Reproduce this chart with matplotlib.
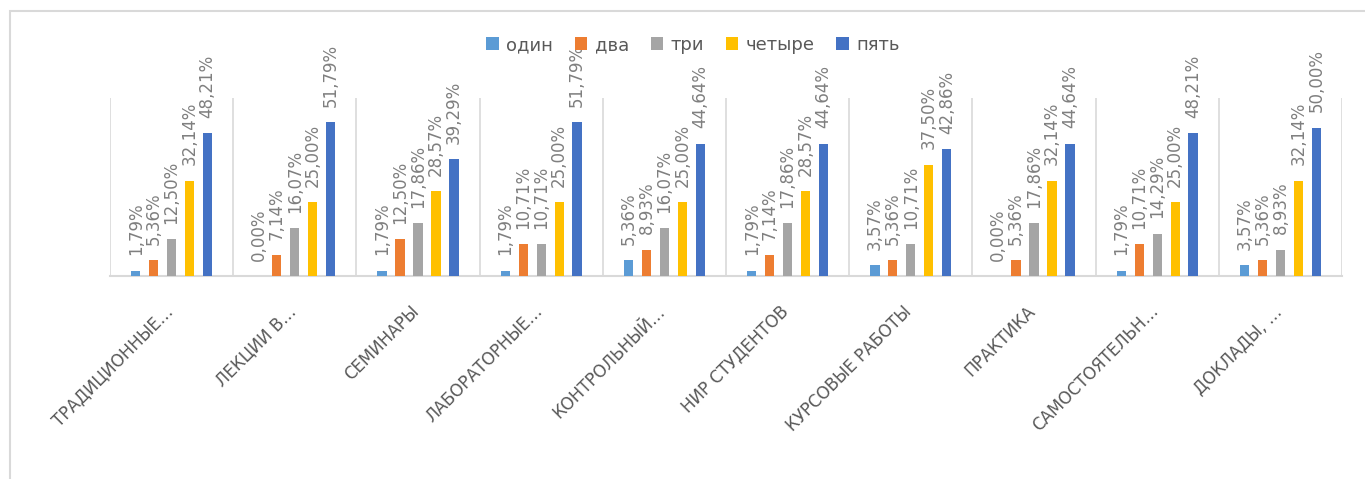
import matplotlib.pyplot as plt
import matplotlib.transforms as mtransforms
import numpy as np
from matplotlib.patches import Rectangle

categories = ['ТРАДИЦИОННЫЕ…', 'ЛЕКЦИИ В…', 'СЕМИНАРЫ', 'ЛАБОРАТОРНЫЕ…', 'КОНТРОЛЬНЫЙ…',
              'НИР СТУДЕНТОВ', 'КУРСОВЫЕ РАБОТЫ', 'ПРАКТИКА', 'САМОСТОЯТЕЛЬН…', 'ДОКЛАДЫ, …']
series_names = ['один', 'два', 'три', 'четыре', 'пять']
odin = [1.79, 0.00, 1.79, 1.79, 5.36, 1.79, 3.57, 0.00, 1.79, 3.57]
dva = [5.36, 7.14, 12.50, 10.71, 8.93, 7.14, 5.36, 5.36, 10.71, 5.36]
tri = [12.50, 16.07, 17.86, 10.71, 16.07, 17.86, 10.71, 17.86, 14.29, 8.93]
chetyre = [32.14, 25.00, 28.57, 25.00, 25.00, 28.57, 37.50, 32.14, 25.00, 32.14]
pyat = [48.21, 51.79, 39.29, 51.79, 44.64, 44.64, 42.86, 44.64, 48.21, 50.00]
colors = ['#5B9BD5', '#ED7D31', '#A5A5A5', '#FFC000', '#4472C4']


def fmt(v):
    return ('%.2f' % v).replace('.', ',') + '%'


fig = plt.figure(figsize=(13.65, 4.79), dpi=100)
# chart area frame
fig.patches.append(Rectangle((10 / 1365, -0.1), 1.2, 1 - 11 / 479 + 0.1, transform=fig.transFigure,
                             fill=False, edgecolor='#d9d9d9', linewidth=1.5))

ax = fig.add_axes([110 / 1365, 1 - 276 / 479, (1342 - 110) / 1365, 178 / 479])
x = np.arange(len(categories))
step = 0.146
width = 0.076
all_series = [odin, dva, tri, chetyre, pyat]
for i, (vals, name, c) in enumerate(zip(all_series, series_names, colors)):
    pos = x + (i - 2) * step
    ax.bar(pos, vals, width, color=c, label=name, zorder=3)
    for p, v in zip(pos, vals):
        ax.annotate(fmt(v), (p, v), xytext=(0, 11), textcoords='offset points',
                    rotation=90, ha='center', va='bottom', fontsize=12, color='#7f7f7f',
                    annotation_clip=False)

ax.set_ylim(0, 60)
ax.set_xlim(-0.5, len(categories) - 0.5)
ax.vlines(np.arange(len(categories) + 1) - 0.5, 0, 60, color='#d9d9d9', linewidth=1.2, zorder=1)
for s in ['top', 'right', 'left']:
    ax.spines[s].set_visible(False)
ax.spines['bottom'].set_color('#d9d9d9')
ax.spines['bottom'].set_linewidth(1.5)
ax.set_yticks([])
ax.set_xticks(x)
ax.set_xticklabels(categories, rotation=45, ha='right', rotation_mode='anchor',
                   fontsize=12, color='#595959')
ax.tick_params(axis='x', length=0, pad=19)
shift = mtransforms.ScaledTranslation(-8 / 100, 0, fig.dpi_scale_trans)
for lbl in ax.get_xticklabels():
    lbl.set_transform(lbl.get_transform() + shift)

fig.legend(loc='center', bbox_to_anchor=(693 / 1365, 1 - 45 / 479), ncol=5, frameon=False,
           fontsize=13, labelcolor='#595959', handlelength=0.7, handleheight=0.7,
           handletextpad=0.4, columnspacing=1.2)

plt.savefig('out.png')
